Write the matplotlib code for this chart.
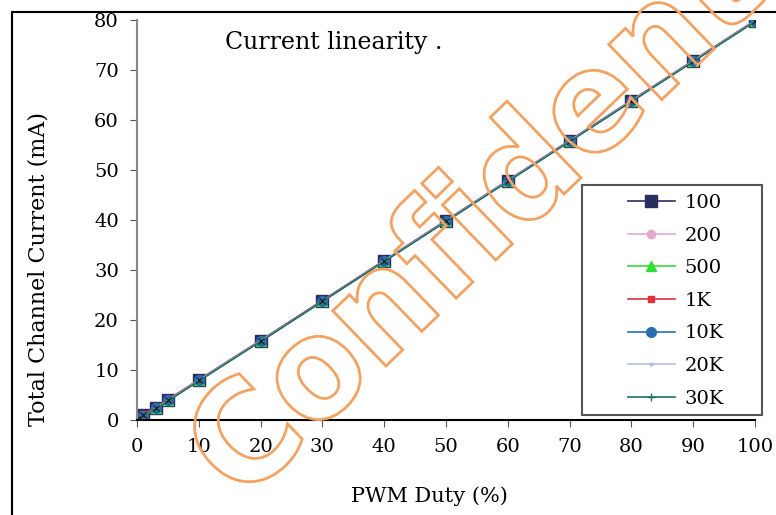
import numpy as np
import matplotlib
matplotlib.use("Agg")
from matplotlib import pyplot as plt
from matplotlib.patches import Rectangle, PathPatch
from matplotlib.textpath import TextPath
from matplotlib.font_manager import FontProperties
from matplotlib.transforms import Affine2D, IdentityTransform

# PWM duty (%) and total channel current (mA) for each PWM frequency
duty = [0, 1, 3, 5, 10, 20, 30, 40, 50, 60, 70, 80, 90, 100]
cur_100 = [0.2, 0.9, 2.4, 4.0, 8.0, 15.9, 23.8, 31.9, 39.9, 47.9, 55.9, 63.9, 71.9, 79.9]
cur_200 = [0.1, 0.8, 2.4, 4.0, 8.0, 15.9, 23.8, 31.9, 39.9, 47.9, 55.9, 63.9, 71.9, 79.9]
cur_500 = [0.0, 0.7, 2.3, 3.9, 7.9, 15.8, 23.8, 31.8, 39.8, 47.8, 55.8, 63.8, 71.8, 79.8]
cur_1k = [0.3, 1.1, 2.5, 4.1, 8.0, 15.9, 23.9, 31.9, 39.9, 47.9, 55.9, 63.9, 71.9, 79.9]
cur_10k = [0.0, 0.7, 2.3, 3.9, 7.9, 15.8, 23.8, 31.8, 39.8, 47.8, 55.8, 63.8, 71.8, 79.8]
cur_20k = [0.0, 0.6, 2.3, 3.9, 7.9, 15.8, 23.7, 31.8, 39.8, 47.8, 55.8, 63.8, 71.8, 79.8]
cur_30k = [0.0, 0.6, 2.2, 3.8, 7.8, 15.7, 23.7, 31.7, 39.7, 47.7, 55.7, 63.7, 71.7, 79.7]

labels = ['100', '200', '500', '1K', '10K', '20K', '30K']
series = [cur_100, cur_200, cur_500, cur_1k, cur_10k, cur_20k, cur_30k]
colors = ['#2b2d5e', '#e7a8cf', '#33dd33', '#e0303a', '#2a6db5', '#b8bde0', '#1f6f64']
markers = ['s', 'o', '^', 's', 'o', '.', '+']
msizes = [9, 6, 7, 5, 7, 4, 6]

plt.rcParams['font.family'] = ['DejaVu Serif']

fig = plt.figure(figsize=(7.76, 5.15), dpi=100)
ax = fig.add_axes([0.1765, 0.1845, 0.7965, 0.7765])

for y, lab, c, m, ms in zip(series, labels, colors, markers, msizes):
    ax.plot(duty, y, color=c, marker=m, markersize=ms, linewidth=1.2, label=lab,
            markeredgecolor=c)
# navy squares show a small x in the middle
ax.plot(duty, cur_100, linestyle='none', marker='x', markersize=4, color='#111122',
        markeredgewidth=0.8)

ax.set_xlim(0, 100)
ax.set_ylim(0, 80)
ax.set_xticks(range(0, 101, 10))
ax.set_yticks(range(0, 81, 10))
ax.spines['top'].set_visible(False)
ax.spines['right'].set_visible(False)
ax.spines['left'].set_color('#888888')
ax.spines['left'].set_linewidth(1.5)
ax.spines['bottom'].set_linewidth(1.5)
ax.tick_params(direction='out', labelsize=14, length=5, color='#555555', pad=8)
ax.set_xlabel('PWM Duty (%)', fontsize=15)
ax.xaxis.set_label_coords(0.474, -0.165)
ax.set_ylabel('Total Channel Current (mA)', fontsize=16)
ax.yaxis.set_label_coords(-0.141, 0.3775)
ax.text(0.143, 0.945, 'Current linearity .', transform=ax.transAxes, fontsize=17,
        va='center', ha='left')

# legend box drawn separately (wide side padding in the original)
ax.add_patch(Rectangle((0.720, 0.0125), 0.291, 0.575, transform=ax.transAxes,
                       facecolor='white', edgecolor='#555555', linewidth=1.5,
                       zorder=5, clip_on=False))
leg = ax.legend(loc='upper left', bbox_to_anchor=(0.7945, 0.565), fontsize=14,
                frameon=False, handlelength=2.4, labelspacing=0.75, borderpad=0,
                handletextpad=0.5, borderaxespad=0)
leg.set_zorder(6)

# outer frame of the original picture
fig.patches.append(Rectangle((12 / 776, -0.1), 1.2, 1 - 12 / 515 + 0.1,
                             transform=fig.transFigure, fill=False,
                             edgecolor='black', linewidth=1.5))

# watermark: outlined, rotated, slightly condensed text
tp = TextPath((0, 0), 'Confidential', size=1,
              prop=FontProperties(family='DejaVu Sans', weight='bold'))
wm = Affine2D().scale(0.95 * 140, 140).rotate_deg(44).translate(242, 10)
fig.add_artist(PathPatch(wm.transform_path(tp), transform=IdentityTransform(),
                         facecolor='none', edgecolor='#f2a262', linewidth=2.0,
                         zorder=10))

fig.savefig('out.png', dpi=100)
